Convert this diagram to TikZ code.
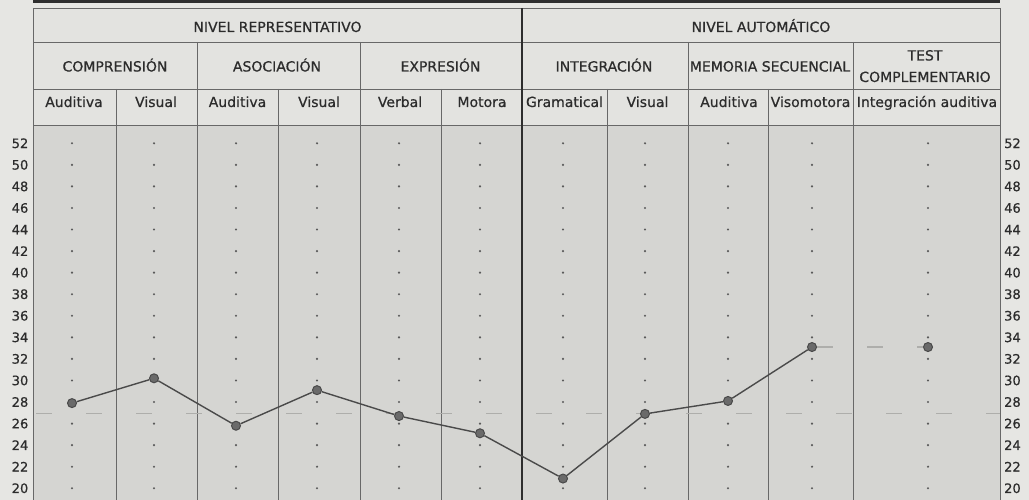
\documentclass[tikz,border=0pt]{standalone}
\usepackage{fontspec}
\setmainfont{DejaVu Sans}[BoldFont={DejaVu Sans},BoldFeatures={FakeBold=0.6}]
\definecolor{bgc}{HTML}{E6E6E3}
\definecolor{headc}{HTML}{E3E3E0}
\definecolor{gridc}{HTML}{D5D5D2}
\definecolor{barc}{HTML}{2E2E2E}
\definecolor{linec}{HTML}{686868}
\definecolor{darkline}{HTML}{2E2E2E}
\definecolor{txtc}{HTML}{2C2C2C}
\definecolor{dotc}{HTML}{5A5A5A}
\definecolor{datac}{HTML}{4A4A4A}
\definecolor{ptfill}{HTML}{6A6A6A}
\definecolor{meanc}{HTML}{AEAEAB}
\begin{document}
\begin{tikzpicture}[x=1pt,y=-1pt,
  declare function={yv(\v)=143.3+(52-\v)*10.78;},
  gline/.style={draw=linec,line width=0.8pt},
  mainline/.style={draw=darkline,line width=1.6pt},
  hdr/.style={text=txtc,font=\fontsize{14}{16}\selectfont\bfseries,anchor=base,inner sep=0pt},
  axlab/.style={text=txtc,font=\fontsize{13}{15}\selectfont\bfseries,inner sep=0pt},
  gdot/.style={fill=dotc},
  datapt/.style={circle,fill=ptfill,draw=datac,line width=1pt,minimum size=9pt,inner sep=0pt},
  dataline/.style={draw=datac,line width=1.4pt},
  meanline/.style={draw=meanc,line width=1.1pt,dash pattern=on 16pt off 34pt}]
\useasboundingbox (0,0) rectangle (1029,500);
\fill[bgc] (0,0) rectangle (1029,500);
\fill[barc] (33,0) rectangle (1000,3.5);
\fill[headc] (33,8) rectangle (1000,125);
\fill[gridc] (33,125) rectangle (1000,500);
% horizontal rules
\foreach \yy in {8,42,89,125} \draw[gline] (33,\yy) -- (1000,\yy);
% vertical rules
\foreach \xx in {197,360,688,853} \draw[gline] (\xx,42) -- (\xx,500);
\foreach \xx in {116,278,441,607,768} \draw[gline] (\xx,89) -- (\xx,500);
\draw[gline] (33,8) -- (33,500);
\draw[gline] (1000,8) -- (1000,500);
\draw[mainline] (522,8) -- (522,500);
% header texts
\node[hdr] (nrep) at (277.5,32) {NIVEL REPRESENTATIVO};
\node[hdr] (naut) at (761,32) {NIVEL AUTOMÁTICO};
\node[hdr] (comp) at (115,71.5) {COMPRENSIÓN};
\node[hdr] (asoc) at (277,71.5) {ASOCIACIÓN};
\node[hdr] (expr) at (440.5,71.5) {EXPRESIÓN};
\node[hdr] (integ) at (604,71.5) {INTEGRACIÓN};
\node[hdr] (mem) at (770,71.5) {MEMORIA SECUENCIAL};
\node[hdr] (test) at (925,60.5) {TEST};
\node[hdr] (compl) at (925,82) {COMPLEMENTARIO};
\node[hdr] (h1) at (74,107) {Auditiva};
\node[hdr] (h2) at (156,107) {Visual};
\node[hdr] (h3) at (237.5,107) {Auditiva};
\node[hdr] (h4) at (319,107) {Visual};
\node[hdr] (h5) at (400,107) {Verbal};
\node[hdr] (h6) at (482,107) {Motora};
\node[hdr] (h7) at (564.5,107) {Gramatical};
\node[hdr] (h8) at (647.5,107) {Visual};
\node[hdr] (h9) at (729,107) {Auditiva};
\node[hdr] (h10) at (810.5,107) {Visomotora};
\node[hdr] (h11) at (927,107) {Integración auditiva};
% axis labels
\foreach \v in {20,22,...,52} {
  \node[axlab,anchor=east] (l\v) at (28.5,{yv(\v)}) {\v};
  \node[axlab,anchor=west] (r\v) at (1004,{yv(\v)}) {\v};
}
% dot grid
\foreach \xx in {72,154,236,317,399,480,563,645,728,812,928} {
  \foreach \v in {20,22,...,52} \fill[gdot] (\xx,{yv(\v)}) circle (1.2pt);
}
% mean lines
\coordinate (ml) at (36,{yv(26.9)});
\coordinate (mr) at (1000,{yv(26.9)});
\draw[meanline] (ml) -- (mr);
% data points
\node[datapt] (p1) at (72,{yv(27.9)}) {};
\node[datapt] (p2) at (154,{yv(30.2)}) {};
\node[datapt] (p3) at (236,{yv(25.8)}) {};
\node[datapt] (p4) at (317,{yv(29.1)}) {};
\node[datapt] (p5) at (399,{yv(26.7)}) {};
\node[datapt] (p6) at (480,{yv(25.1)}) {};
\node[datapt] (p7) at (563,{yv(20.9)}) {};
\node[datapt] (p8) at (645,{yv(26.9)}) {};
\node[datapt] (p9) at (728,{yv(28.1)}) {};
\node[datapt] (p10) at (812,{yv(33.1)}) {};
\node[datapt] (p11) at (928,{yv(33.1)}) {};
\draw[meanline] (p10) -- (p11);
\draw[dataline] (p1) -- (p2) -- (p3) -- (p4) -- (p5) -- (p6) -- (p7) -- (p8) -- (p9) -- (p10);
\end{tikzpicture}
\end{document}
